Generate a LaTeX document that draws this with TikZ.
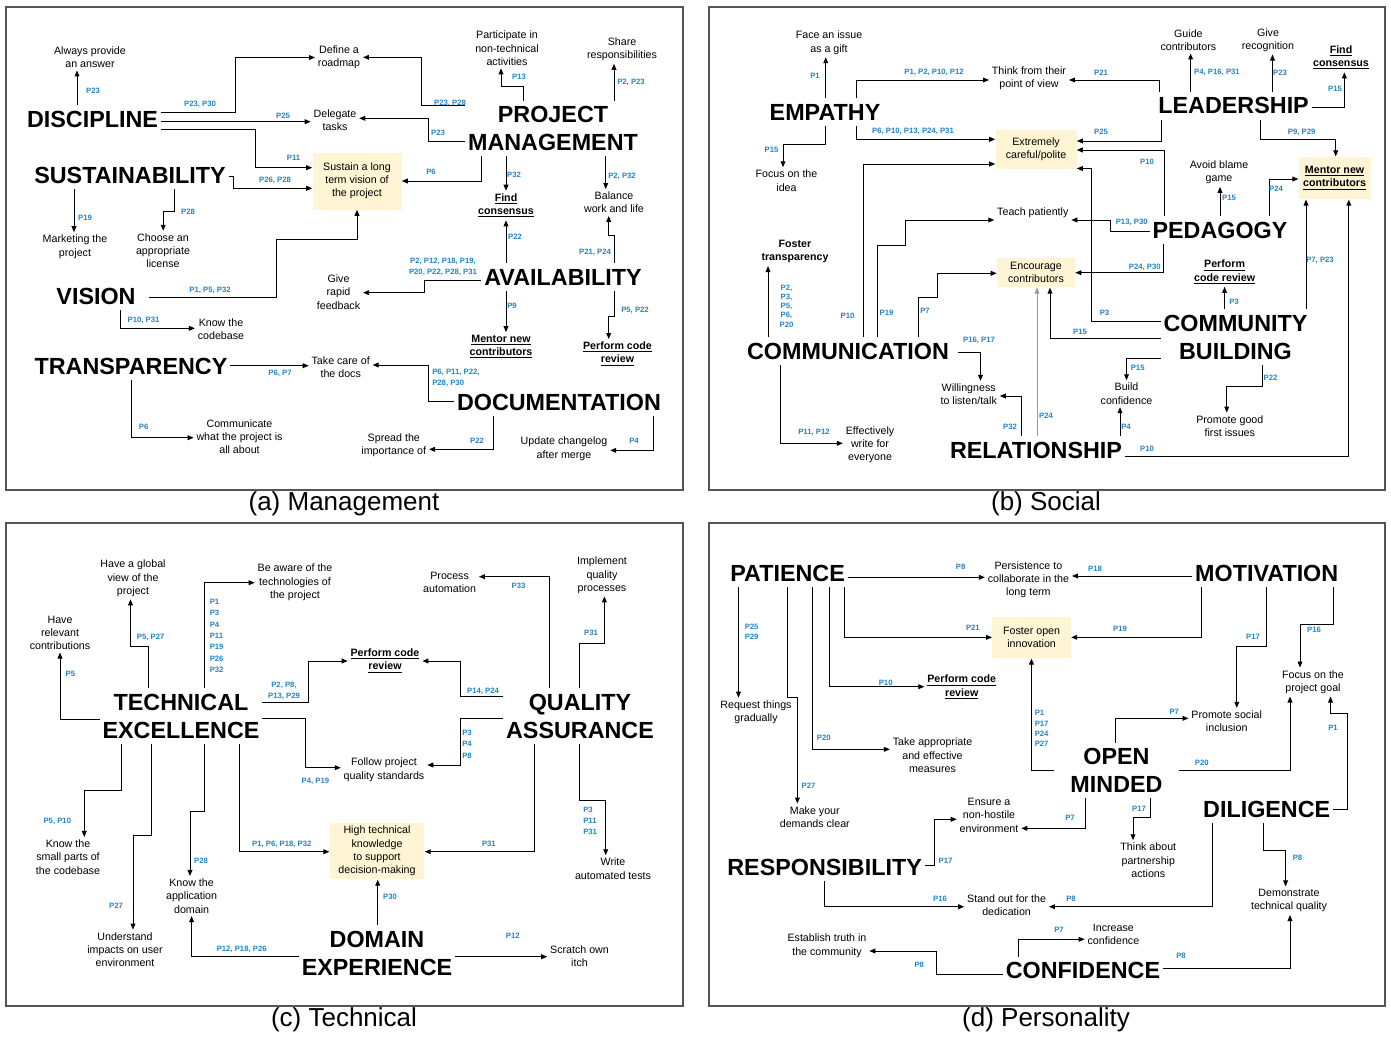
\documentclass[tikz,border=0pt]{standalone}
\usepackage{fontspec}
\setmainfont{Liberation Sans}
\usetikzlibrary{arrows.meta}
\definecolor{pblue}{RGB}{36,132,198}
\definecolor{hlfill}{RGB}{255,244,212}
\definecolor{frmgray}{RGB}{85,85,85}
\newcommand\myul[1]{\underline{#1}}
\begin{document}
\begin{tikzpicture}[x=0.75pt,y=-0.75pt,
 big/.style={font=\fontsize{17.5}{21}\selectfont\bfseries, align=center, inner xsep=2pt, inner ysep=4pt},
 txt/.style={font=\fontsize{8}{9.9}\selectfont, align=center, inner sep=2pt},
 ubf/.style={txt, font=\fontsize{8}{9.9}\selectfont\bfseries},
 hl/.style={txt, fill=hlfill, inner sep=0pt},
 lab/.style={font=\fontsize{5.8}{7.8}\selectfont\bfseries, text=pblue, inner sep=0pt, align=center},
 labl/.style={lab, align=left},
 arr/.style={draw, line width=0.72pt, -{Triangle[length=4.5pt,width=3.6pt]}},
 garr/.style={arr, draw=black!40},
 panel/.style={draw=frmgray, line width=1.1pt},
 ttl/.style={font=\fontsize{19.5}{23}\selectfont, inner sep=0pt}]

\fill[white] (0,0) rectangle (1391,1036);
\useasboundingbox (0,0) rectangle (1391,1036);

\draw[panel] (6,7) rectangle (683,490);
\draw[panel] (709,7) rectangle (1385,490);
\draw[panel] (6,523) rectangle (683,1006);
\draw[panel] (709,523) rectangle (1385,1006);

\node[ttl] (ta) at (344,504) {(a) Management};
\node[ttl] (tb) at (1046,504) {(b) Social};
\node[ttl] (tc) at (344,1020) {(c) Technical};
\node[ttl] (td) at (1046,1020) {(d) Personality};

% ================= (a) Management =================
\node[big] (DISC) at (92.5,119) {DISCIPLINE};
\node[big] (SUST) at (130,175) {SUSTAINABILITY};
\node[big] (VIS) at (96,296) {VISION};
\node[big] (TRAN) at (131,366.5) {TRANSPARENCY};
\node[big] (PM) at (553,128.5) {PROJECT\\MANAGEMENT};
\node[big] (AVA) at (563,277) {AVAILABILITY};
\node[big] (DOC) at (559,402) {DOCUMENTATION};
\coordinate (visR) at ([xshift=8pt]VIS.east);

\node[txt] (ans) at (90,57) {Always provide\\an answer};
\node[txt] (road) at (339,57.5) {Define a\\roadmap};
\node[txt] (dele) at (335,120.5) {Delegate\\tasks};
\node[hl, minimum width=66.75pt, minimum height=42.75pt] (sus) at (357,181) {Sustain a long\\term vision of\\the project};
\node[txt] (part) at (507,48.3) {Participate in\\non-technical\\activities};
\node[txt] (share) at (622,49.3) {Share\\responsibilities};
\node[ubf] (findA) at (506,205.5) {\myul{Find}\\\myul{consensus}};
\node[txt] (bal) at (614,202.5) {Balance\\work and life};
\node[txt] (mark) at (75,246.7) {Marketing the\\project};
\node[txt] (lic) at (163,250.8) {Choose an\\appropriate\\license};
\node[txt] (feed) at (338.5,292) {Give\\rapid\\feedback};
\node[txt] (code) at (221,329) {Know the\\codebase};
\node[ubf] (mentA) at (501,346.7) {\myul{Mentor new}\\\myul{contributors}};
\node[ubf] (revA) at (617.5,353.8) {\myul{Perform code}\\\myul{review}};
\node[txt] (docs) at (340.7,367) {Take care of\\the docs};
\node[txt] (comm) at (239.5,436.7) {Communicate\\what the project is\\all about};
\node[txt] (spread) at (393.8,445) {Spread the\\importance of};
\node[txt] (upd) at (564,448.7) {Update changelog\\after merge};

\draw[arr] (DISC.north -| 77,0) -- (ans.south -| 77,0);
\draw[arr] (DISC.east |- 0,112) -| (235,57.5) -- (road.west |- 0,57.5);
\draw[arr] (DISC.east |- 0,121.7) -- (dele.west |- 0,121.7);
\draw[arr] (DISC.east |- 0,129.3) -| (255.7,167.7) -- (sus.west |- 0,167.7);
\draw[arr] (PM.west |- 0,105.7) -| (421,57.3) -- (road.east |- 0,57.3);
\draw[arr] (PM.west |- 0,141.7) -| (428.7,118.3) -- (dele.east |- 0,118.3);
\draw[arr] (PM.north -| 523.7,0) |- (501,86.7) -- (part.south -| 501,0);
\draw[arr] (PM.north -| 614,0) -- (share.south -| 614,0);
\draw[arr] (PM.south -| 481,0) -- (481,181) -- (sus.east |- 0,181);
\draw[arr] (PM.south -| 506,0) -- (findA.north -| 506,0);
\draw[arr] (PM.south -| 605.7,0) -- (bal.north -| 605.7,0);
\draw[arr] (SUST.east |- 0,176) -- (233.8,176) -- (233.8,188.3) -- (sus.west |- 0,188.3);
\draw[arr] (SUST.south -| 74,0) -- (mark.north -| 74,0);
\draw[arr] (SUST.south -| 174,0) |- (163.2,211.7) -- (lic.north -| 163.2,0);
\draw[arr] (visR |- 0,297.7) -| (276,239.3) -| (sus.south -| 357,0);
\draw[arr] (VIS.south -| 120.5,0) |- (code.west |- 0,328.3);
\draw[arr] (AVA.north -| 506,0) -- (findA.south -| 506,0);
\draw[arr] (AVA.north -| 614.4,0) |- (608.7,235) -- (bal.south -| 608.7,0);
\draw[arr] (AVA.west |- 0,280) -| (424,292.7) -- (feed.east |- 0,292.7);
\draw[arr] (AVA.south -| 506,0) -- (mentA.north -| 506,0);
\draw[arr] (AVA.south -| 614.4,0) |- (608.7,316.7) -- (revA.north -| 608.7,0);
\draw[arr] (TRAN.east |- 0,365.7) -- (docs.west |- 0,365.7);
\draw[arr] (DOC.west |- 0,401.7) -| (428.7,365) -- (docs.east |- 0,365);
\draw[arr] (TRAN.south -| 131.4,0) |- (comm.west |- 0,437.7);
\draw[arr] (DOC.south -| 493,0) |- (spread.east |- 0,449.3);
\draw[arr] (DOC.south -| 653.6,0) |- (upd.east |- 0,450.3);

\node[lab] (la1) at (93,91) {P23};
\node[lab] (la2) at (200,104) {P23, P30};
\node[lab] (la3) at (283,115.7) {P25};
\node[lab] (la4) at (293.6,158.3) {P11};
\node[lab] (la5) at (450,103.3) {P23, P28};
\node[lab] (la6) at (438,132.7) {P23};
\node[lab] (la7) at (519,76.7) {P13};
\node[lab] (la8) at (631,82.7) {P2, P23};
\node[lab] (la9) at (431,172) {P6};
\node[lab] (la10) at (514,175) {P32};
\node[lab] (la11) at (622,176) {P2, P32};
\node[lab] (la12) at (275,180) {P26, P28};
\node[lab] (la13) at (85,217.7) {P19};
\node[lab] (la14) at (188,212.3) {P28};
\node[lab] (la15) at (210,290) {P1, P5, P32};
\node[lab] (la16) at (143.6,320) {P10, P31};
\node[lab] (la17) at (515,236.7) {P22};
\node[lab] (la18) at (595,252.7) {P21, P24};
\node[lab, font=\fontsize{5.8}{8}\selectfont\bfseries] (la19) at (443,267) {P2, P12, P18, P19,\\P20, P22, P28, P31};
\node[lab] (la20) at (512,306) {P9};
\node[lab] (la21) at (635,310) {P5, P22};
\node[lab] (la22) at (280,373.3) {P6, P7};
\node[labl, font=\fontsize{5.8}{8}\selectfont\bfseries, anchor=west] (la23) at (432,378) {P6, P11, P22,\\P28, P30};
\node[lab] (la24) at (143.6,427.3) {P6};
\node[lab] (la25) at (477,441) {P22};
\node[lab] (la26) at (634,441) {P4};

% ================= (b) Social =================
\node[big] (EMP) at (825,112) {EMPATHY};
\node[big] (LEAD) at (1233.6,105.7) {LEADERSHIP};
\node[big] (PED) at (1220,230) {PEDAGOGY};
\node[big] (COMB) at (1235.5,337.2) {COMMUNITY\\BUILDING};
\node[big] (COMC) at (848,351) {COMMUNICATION};
\node[big] (REL) at (1036,450) {RELATIONSHIP};
\coordinate (comcR) at ([xshift=5pt]COMC.east);

\node[txt] (gift) at (829,42.7) {Face an issue\\as a gift};
\node[txt] (think) at (1029,78.3) {Think from their\\point of view};
\node[txt] (guide) at (1188.4,40) {Guide\\contributors};
\node[txt] (recog) at (1268,40) {Give\\recognition};
\node[ubf] (findB) at (1341,57.5) {\myul{Find}\\\myul{consensus}};
\node[hl, minimum width=60.75pt, minimum height=29.25pt] (polite) at (1036,149.5) {Extremely\\careful/polite};
\node[txt] (focus) at (786.5,180.7) {Focus on the\\idea};
\node[txt] (blame) at (1219,172.3) {Avoid blame\\game};
\node[hl, font=\fontsize{8}{9.9}\selectfont\bfseries, minimum width=54pt, minimum height=32pt] (mentB) at (1334.6,178) {\myul{Mentor new}\\\myul{contributors}};
\node[txt] (teach) at (1032.8,212.7) {Teach patiently};
\node[ubf] (foster) at (795,251.7) {Foster\\transparency};
\node[hl, minimum width=58.5pt, minimum height=22pt] (enc) at (1036,272.7) {Encourage\\contributors};
\node[ubf] (revB) at (1224.6,272) {\myul{Perform}\\\myul{code review}};
\node[txt] (will) at (968.7,394.3) {Willingness\\to listen/talk};
\node[txt] (eff) at (870,444.5) {Effectively\\write for\\everyone};
\node[txt] (build) at (1126.5,393.7) {Build\\confidence};
\node[txt] (prom) at (1229.8,426) {Promote good\\first issues};

\draw[arr] (EMP.north -| 825.7,0) -- (gift.south -| 825.7,0);
\draw[arr] (EMP.north -| 856,0) |- (think.west |- 0,80);
\draw[arr] (LEAD.north -| 1159,0) |- (think.east |- 0,80);
\draw[arr] (LEAD.north -| 1190.6,0) -- (guide.south -| 1190.6,0);
\draw[arr] (LEAD.north -| 1272.5,0) -- (recog.south -| 1272.5,0);
\draw[arr] (LEAD.east |- 0,107.7) -| (findB.south -| 1344.4,0);
\draw[arr] (EMP.south -| 856,0) |- (polite.west |- 0,139.3);
\draw[arr] (LEAD.south -| 1161,0) |- (polite.east |- 0,141);
\draw[arr] (PED.north -| 1164.8,0) |- (polite.east |- 0,150);
\draw[arr] (COMB.west |- 0,321.7) -| (1091.6,168.5) -- (polite.east |- 0,168.5);
\draw[arr] (COMC.north -| 863.6,0) |- (polite.west |- 0,164);
\draw[arr] (EMP.south -| 825.7,0) |- (783,144.3) -- (focus.north -| 783,0);
\draw[arr] (LEAD.south -| 1260.7,0) |- (1335.7,139.3) -- (mentB.north -| 1335.7,0);
\draw[arr] (PED.north -| 1220,0) -- (blame.south -| 1220,0);
\draw[arr] (PED.north -| 1269.5,0) |- (mentB.west |- 0,179);
\draw[arr] (COMB.north -| 1306,0) -- (mentB.south -| 1306,0);
\draw[arr] (REL.east |- 0,456) -| (mentB.south -| 1348.8,0);
\draw[arr] (PED.west |- 0,231) -| (1110,220) -- (teach.east |- 0,220);
\draw[arr] (COMC.north -| 877,0) |- (905.5,245) |- (teach.west |- 0,220);
\draw[arr] (COMC.north -| 768,0) -- (foster.south -| 768,0);
\draw[arr] (PED.south -| 1163.5,0) |- (enc.east |- 0,272.7);
\draw[arr] (COMC.north -| 918,0) |- (937,297.3) |- (enc.west |- 0,273.3);
\draw[garr] (REL.north -| 1037,0) -- (enc.south -| 1037,0);
\draw[arr] (COMB.west |- 0,338.3) -| (enc.south -| 1050,0);
\draw[arr] (COMB.north -| 1224.6,0) -- (revB.south -| 1224.6,0);
\draw[arr] (comcR |- 0,352.7) -| (will.north -| 980.5,0);
\draw[arr] (REL.north -| 1021.9,0) |- (will.east |- 0,396);
\draw[arr] (COMC.south -| 780,0) |- (eff.west |- 0,443.3);
\draw[arr] (REL.north -| 1120,0) -- (build.south -| 1120,0);
\draw[arr] (COMB.west |- 0,358.3) -| (build.north -| 1126.5,0);
\draw[arr] (COMB.south -| 1262.5,0) |- (1226.7,386) -- (prom.north -| 1226.7,0);

\node[lab] (lb1) at (815,75.7) {P1};
\node[lab] (lb2) at (934,72.7) {P1, P2, P10, P12};
\node[lab] (lb3) at (1101,72.7) {P21};
\node[lab] (lb4) at (1217,72.7) {P4, P16, P31};
\node[lab] (lb5) at (1280,72.7) {P23};
\node[lab] (lb6) at (1335,89) {P15};
\node[lab] (lb7) at (913,131.7) {P6, P10, P13, P24, P31};
\node[lab] (lb8) at (1101,131.7) {P25};
\node[lab] (lb9) at (1147,162.3) {P10};
\node[lab] (lb10) at (1104.5,312.7) {P3};
\node[lab] (lb11) at (847.5,315.7) {P10};
\node[lab] (lb12) at (771.6,150) {P15};
\node[lab] (lb13) at (1301.7,132.7) {P9, P29};
\node[lab] (lb14) at (1229,197.7) {P15};
\node[lab] (lb15) at (1276,188.3) {P24};
\node[lab] (lb16) at (1320,260) {P7, P23};
\node[lab] (lb17) at (1147,449) {P10};
\node[lab] (lb18) at (1131.7,222.7) {P13, P30};
\node[lab] (lb19) at (886.6,312.7) {P19};
\node[lab, font=\fontsize{5.8}{6.9}\selectfont\bfseries] (lb20) at (786.5,306) {P2,\\P3,\\P5,\\P6,\\P20};
\node[lab] (lb21) at (1144.8,267.3) {P24, P30};
\node[lab] (lb22) at (925,310.7) {P7};
\node[lab] (lb23) at (1046,416) {P24};
\node[lab] (lb24) at (1080,331.7) {P15};
\node[lab] (lb25) at (1234,302.3) {P3};
\node[lab] (lb26) at (979,340.7) {P16, P17};
\node[lab] (lb27) at (1010,426.7) {P32};
\node[lab] (lb28) at (814,432) {P11, P12};
\node[lab] (lb29) at (1126,426.7) {P4};
\node[lab] (lb30) at (1137.7,367.7) {P15};
\node[lab] (lb31) at (1270.6,377.3) {P22};

% ================= (c) Technical =================
\node[big] (TE) at (181,716) {TECHNICAL\\EXCELLENCE};
\node[big] (QA) at (580,716) {QUALITY\\ASSURANCE};
\node[big] (DE) at (377,953.3) {DOMAIN\\EXPERIENCE};

\node[txt] (glob) at (133,578.3) {Have a global\\view of the\\project};
\node[txt] (rel) at (60,632.7) {Have\\relevant\\contributions};
\node[txt] (aware) at (295,582.3) {Be aware of the\\technologies of\\the project};
\node[txt] (proc) at (449.6,582) {Process\\automation};
\node[txt] (impl) at (602,575.3) {Implement\\quality\\processes};
\node[ubf] (revC) at (385,660.8) {\myul{Perform code}\\\myul{review}};
\node[txt] (follow) at (384,769.7) {Follow project\\quality standards};
\node[txt] (small) at (68,857) {Know the\\small parts of\\the codebase};
\node[txt] (und) at (125,949.7) {Understand\\impacts on user\\environment};
\node[txt] (app) at (191.6,896) {Know the\\application\\domain};
\node[hl, minimum width=71pt, minimum height=42.5pt] (htk) at (377,851) {High technical\\knowledge\\to support\\decision-making};
\node[txt] (write) at (613,868.7) {Write\\automated tests};
\node[txt] (scratch) at (579.5,955.8) {Scratch own\\itch};

\draw[arr] (TE.west |- 0,719) -| (rel.south -| 60,0);
\draw[arr] (TE.north -| 148,0) |- (130.5,646.7) -- (glob.south -| 130.5,0);
\draw[arr] (TE.north -| 204.2,0) |- (aware.west |- 0,582.7);
\draw[arr] (TE.east |- 0,702.7) -| (308.8,661) -- (revC.west |- 0,661);
\draw[arr] (QA.west |- 0,696) -| (460.5,661) -- (revC.east |- 0,661);
\draw[arr] (QA.north -| 549,0) |- (proc.east |- 0,576.7);
\draw[arr] (QA.north -| 579.5,0) |- (604.4,643.3) -- (impl.south -| 604.4,0);
\draw[arr] (TE.east |- 0,718.3) -| (305,767.7) -- (follow.west |- 0,767.7);
\draw[arr] (QA.west |- 0,718.3) -| (460.5,765) -- (follow.east |- 0,765);
\draw[arr] (TE.south -| 121.8,0) |- (84.3,790) -- (small.north -| 84.3,0);
\draw[arr] (TE.south -| 151.5,0) |- (133,835) -- (und.north -| 133,0);
\draw[arr] (TE.south -| 204.2,0) |- (190,811) -- (app.north -| 190,0);
\draw[arr] (TE.south -| 239,0) |- (htk.west |- 0,851.7);
\draw[arr] (QA.south -| 534.6,0) |- (htk.east |- 0,851.7);
\draw[arr] (QA.south -| 579.5,0) |- (605.7,800) -- (write.north -| 605.7,0);
\draw[arr] (DE.north -| 377.7,0) -- (htk.south -| 377.7,0);
\draw[arr] (DE.west |- 0,956.7) -| (app.south -| 191.6,0);
\draw[arr] (DE.east |- 0,956.7) -- (scratch.west |- 0,956.7);

\node[lab] (lc1) at (70.4,674) {P5};
\node[lab] (lc2) at (150.6,637.3) {P5, P27};
\node[labl, font=\fontsize{5.8}{8.55}\selectfont\bfseries, anchor=west] (lc3) at (209.5,635.8) {P1\\P3\\P4\\P11\\P19\\P26\\P32};
\node[lab, font=\fontsize{5.8}{7.8}\selectfont\bfseries] (lc4) at (284,691) {P2, P8,\\P13, P29};
\node[lab] (lc5) at (483,691) {P14, P24};
\node[lab] (lc6) at (518.5,585.7) {P33};
\node[lab] (lc7) at (591,633.3) {P31};
\node[lab] (lc8) at (315.4,781) {P4, P19};
\node[labl, font=\fontsize{5.8}{8.6}\selectfont\bfseries, anchor=west] (lc9) at (462,744) {P3\\P4\\P8};
\node[lab] (lc10) at (57.3,821) {P5, P10};
\node[lab] (lc11) at (116,905.7) {P27};
\node[lab] (lc12) at (201,860.7) {P28};
\node[lab] (lc13) at (281.8,844) {P1, P6, P18, P32};
\node[lab] (lc14) at (488.9,844) {P31};
\node[labl, font=\fontsize{5.8}{8.4}\selectfont\bfseries, anchor=west] (lc15) at (583,821) {P3\\P11\\P31};
\node[lab] (lc16) at (390,896.7) {P30};
\node[lab] (lc17) at (241.7,949.3) {P12, P18, P26};
\node[lab] (lc18) at (512.8,935.7) {P12};

% ================= (d) Personality =================
\node[big] (PAT) at (787.6,573.3) {PATIENCE};
\node[big] (MOT) at (1266.7,573.3) {MOTIVATION};
\node[big] (OM) at (1116.5,770.3) {OPEN\\MINDED};
\node[big] (DIL) at (1266.7,809) {DILIGENCE};
\node[big] (RESP) at (824.6,867.3) {RESPONSIBILITY};
\node[big] (CONF) at (1083,970.7) {CONFIDENCE};

\node[txt] (pers) at (1028.4,579.7) {Persistence to\\collaborate in the\\long term};
\node[hl, minimum width=59pt, minimum height=31.2pt] (fopen) at (1031.6,637.5) {Foster open\\innovation};
\node[ubf] (revD) at (961.7,687) {\myul{Perform code}\\\myul{review}};
\node[txt] (req) at (756,712.2) {Request things\\gradually};
\node[txt] (take) at (932.5,755.3) {Take appropriate\\and effective\\measures};
\node[txt] (dem) at (814.8,817) {Make your\\demands clear};
\node[txt] (socl) at (1226.7,721.3) {Promote social\\inclusion};
\node[txt] (goal) at (1313,682) {Focus on the\\project goal};
\node[txt] (ensure) at (989,815.3) {Ensure a\\non-hostile\\environment};
\node[txt] (part2) at (1148.3,860.3) {Think about\\partnership\\actions};
\node[txt] (stand) at (1006.6,905.3) {Stand out for the\\dedication};
\node[txt] (demo) at (1289,900.7) {Demonstrate\\technical quality};
\node[txt] (incr) at (1113.4,934.7) {Increase\\confidence};
\node[txt] (truth) at (827,945.8) {Establish truth in\\the community};

\draw[arr] (PAT.east |- 0,577.3) -- (pers.west |- 0,577.3);
\draw[arr] (MOT.west |- 0,576) -- (pers.east |- 0,576);
\draw[arr] (PAT.south -| 844.4,0) |- (fopen.west |- 0,637.3);
\draw[arr] (PAT.south -| 829.2,0) |- (revD.west |- 0,686.7);
\draw[arr] (PAT.south -| 812.6,0) |- (take.west |- 0,749.3);
\draw[arr] (PAT.south -| 787.3,0) |- (797.4,697.7) -- (dem.north -| 797.4,0);
\draw[arr] (PAT.south -| 738.5,0) -- (req.north -| 738.5,0);
\draw[arr] (MOT.south -| 1201.5,0) |- (fopen.east |- 0,637.3);
\draw[arr] (MOT.south -| 1266.9,0) |- (1236.8,646.7) -- (socl.north -| 1236.8,0);
\draw[arr] (MOT.south -| 1333.5,0) |- (1300,624) -- (goal.north -| 1300,0);
\draw[arr] ([xshift=-10pt]OM.west) -| (fopen.south -| 1031.5,0);
\draw[arr] (OM.north -| 1115.6,0) |- (socl.west |- 0,718.3);
\draw[arr] ([xshift=10pt]OM.east) -| (goal.south -| 1290,0);
\draw[arr] (DIL.east |- 0,809) -| (1347.5,713.3) -| (goal.south -| 1330.5,0);
\draw[arr] (OM.south -| 1085,0) |- (ensure.east |- 0,828.3);
\draw[arr] (OM.south -| 1150.5,0) |- (1133,817.7) -- (part2.north -| 1133,0);
\draw[arr] (RESP.east |- 0,865) -| (934.7,819.3) -- (ensure.west |- 0,819.3);
\draw[arr] (RESP.south -| 824.8,0) |- (stand.west |- 0,906.7);
\draw[arr] (DIL.south -| 1212.8,0) |- (stand.east |- 0,906.7);
\draw[arr] (DIL.south -| 1263.8,0) |- (1285.6,850) -- (demo.north -| 1285.6,0);
\draw[arr] (CONF.north -| 1018.4,0) |- (incr.west |- 0,939.3);
\draw[arr] (CONF.west |- 0,974.3) -| (936.9,951) -- (truth.east |- 0,951);
\draw[arr] (CONF.east |- 0,968.3) -| (demo.south -| 1290,0);

\node[lab] (ld1) at (960.7,566.7) {P8};
\node[lab] (ld2) at (1095,569) {P18};
\node[lab] (ld3) at (972.9,627.3) {P21};
\node[lab] (ld4) at (885.7,683.3) {P10};
\node[lab] (ld5) at (823.8,738.3) {P20};
\node[lab] (ld6) at (808.6,785.7) {P27};
\node[labl, font=\fontsize{5.8}{7.5}\selectfont\bfseries, anchor=west] (ld7) at (744.5,632.3) {P25\\P29};
\node[lab] (ld8) at (1120,629.3) {P19};
\node[lab] (ld9) at (1253,637.3) {P17};
\node[lab] (ld10) at (1314,630) {P16};
\node[labl, font=\fontsize{5.8}{7.7}\selectfont\bfseries, anchor=west] (ld11) at (1034.5,728.7) {P1\\P17\\P24\\P27};
\node[lab] (ld12) at (1174.3,711.7) {P7};
\node[lab] (ld13) at (1201.8,763.3) {P20};
\node[lab] (ld14) at (1333,728.3) {P1};
\node[lab] (ld15) at (1070,817.7) {P7};
\node[lab] (ld16) at (1139,809.3) {P17};
\node[lab] (ld17) at (945.5,860.7) {P17};
\node[lab] (ld18) at (940,899) {P16};
\node[lab] (ld19) at (1071,899) {P8};
\node[lab] (ld20) at (1297.5,857.7) {P8};
\node[lab] (ld21) at (1059,930) {P7};
\node[lab] (ld22) at (919.3,965) {P8};
\node[lab] (ld23) at (1181,956) {P8};

\end{tikzpicture}
\end{document}
